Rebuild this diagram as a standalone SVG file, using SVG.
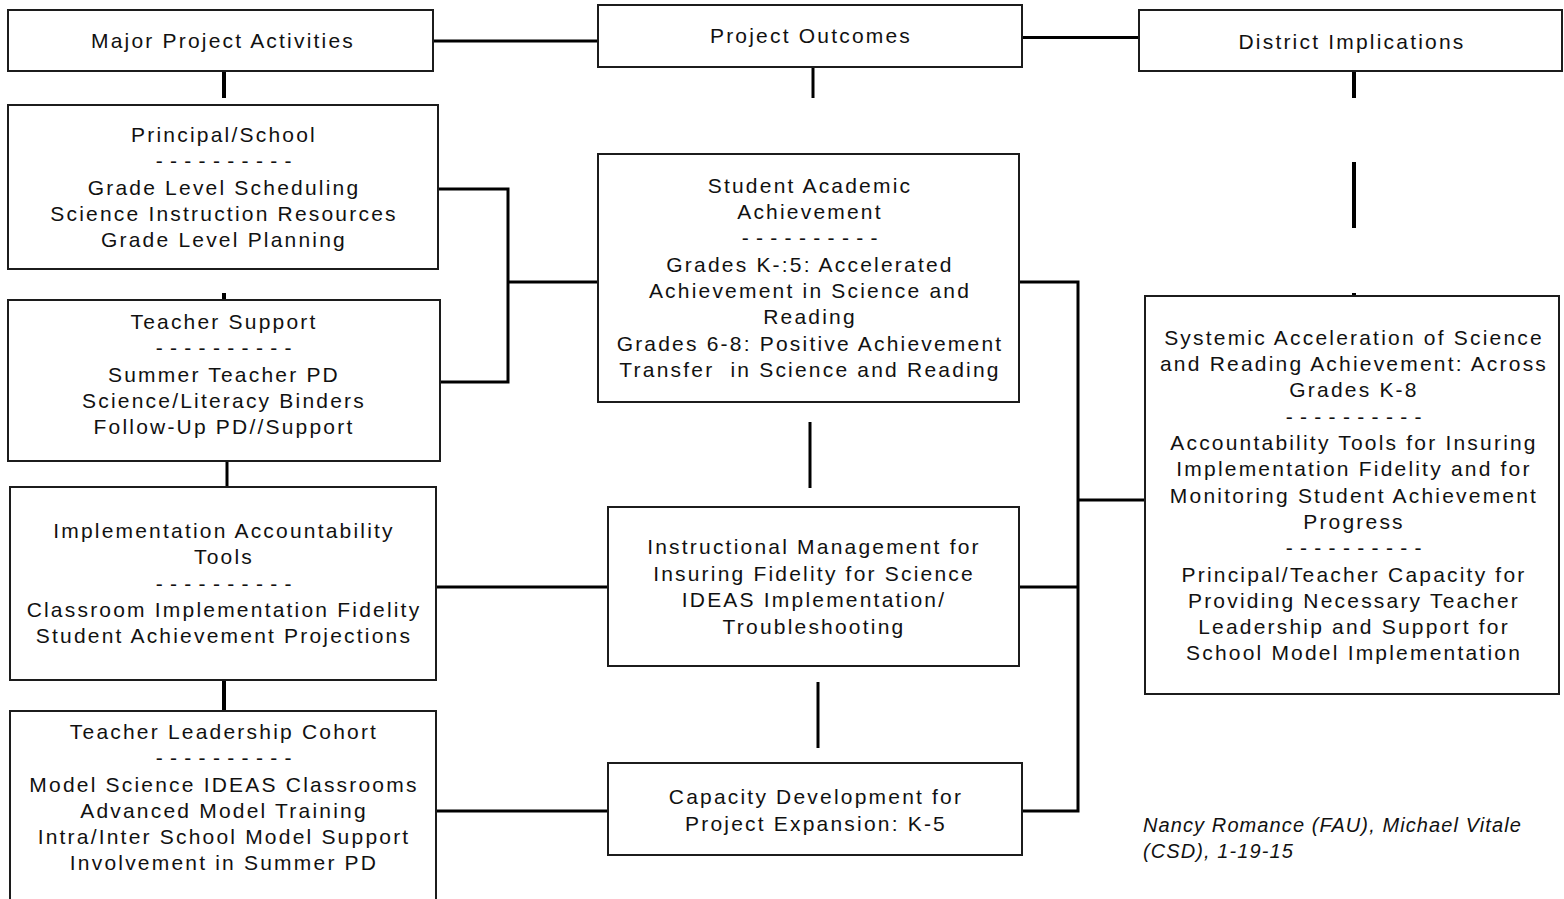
<svg xmlns="http://www.w3.org/2000/svg" width="1564" height="899" viewBox="0 0 1564 899">
<style>
.box{fill:#fff;stroke:#1c1c1c;stroke-width:2}
.t{font-family:"Liberation Sans",Arial,sans-serif;font-size:21px;letter-spacing:2.2px;fill:#111;text-anchor:middle}
.d{letter-spacing:0.75px}
.c{stroke:#000;stroke-width:3;fill:none}
.s{stroke:#000;stroke-width:4;fill:none}
.cr{font-family:"Liberation Sans",Arial,sans-serif;font-size:20px;font-style:italic;letter-spacing:1.1px;fill:#111}
</style>
<rect width="1564" height="899" fill="#fff"/>
<g id="connectors">
<path class="c" d="M433 41H599"/>
<path class="c" d="M1022 37.5H1139"/>
<path class="s" d="M224 72V98"/>
<path class="c" d="M813 68V98"/>
<path class="s" d="M1354 72V98"/>
<path class="s" d="M1354 162V228"/>
<path class="s" d="M1354 293V298"/>
<path class="s" d="M224 293V300"/>
<path class="c" d="M227 461V487"/>
<path class="s" d="M224 680V711"/>
<path class="c" d="M810 422V488"/>
<path class="c" d="M818 682V748"/>
<path class="c" d="M438 189H508V382H440"/>
<path class="c" d="M508 282H598"/>
<path class="c" d="M436 587H608"/>
<path class="c" d="M436 811H608"/>
<path class="c" d="M1019 282H1078V811H1022"/>
<path class="c" d="M1019 587H1078"/>
<path class="c" d="M1078 500H1145"/>
</g>
<g id="major-project-activities">
<rect class="box" x="8" y="10" width="425" height="61"/>
<text class="t" x="223" y="48">Major Project Activities</text>
</g>
<g id="project-outcomes">
<rect class="box" x="598" y="5" width="424" height="62"/>
<text class="t" x="811" y="43">Project Outcomes</text>
</g>
<g id="district-implications">
<rect class="box" x="1139" y="10" width="423" height="61"/>
<text class="t" x="1352" y="49">District Implications</text>
</g>
<g id="principal-school">
<rect class="box" x="8" y="105" width="430" height="164"/>
<text class="t" x="224" y="142">Principal/School</text>
<text class="t d" x="224" y="168">- - - - - - - - - -</text>
<text class="t" x="224" y="195">Grade Level Scheduling</text>
<text class="t" x="224" y="221">Science Instruction Resources</text>
<text class="t" x="224" y="247">Grade Level Planning</text>
</g>
<g id="teacher-support">
<rect class="box" x="8" y="300" width="432" height="161"/>
<text class="t" x="224" y="329">Teacher Support</text>
<text class="t d" x="224" y="355">- - - - - - - - - -</text>
<text class="t" x="224" y="382">Summer Teacher PD</text>
<text class="t" x="224" y="408">Science/Literacy Binders</text>
<text class="t" x="224" y="434">Follow-Up PD//Support</text>
</g>
<g id="implementation-tools">
<rect class="box" x="10" y="487" width="426" height="193"/>
<text class="t" x="224" y="538">Implementation Accountability</text>
<text class="t" x="224" y="564">Tools</text>
<text class="t d" x="224" y="591">- - - - - - - - - -</text>
<text class="t" x="224" y="617">Classroom Implementation Fidelity</text>
<text class="t" x="224" y="643">Student Achievement Projections</text>
</g>
<g id="teacher-leadership">
<rect class="box" x="10" y="711" width="426" height="200"/>
<text class="t" x="224" y="739">Teacher Leadership Cohort</text>
<text class="t d" x="224" y="765">- - - - - - - - - -</text>
<text class="t" x="224" y="792">Model Science IDEAS Classrooms</text>
<text class="t" x="224" y="818">Advanced Model Training</text>
<text class="t" x="224" y="844">Intra/Inter School Model Support</text>
<text class="t" x="224" y="870">Involvement in Summer PD</text>
</g>
<g id="student-achievement">
<rect class="box" x="598" y="154" width="421" height="248"/>
<text class="t" x="810" y="193">Student Academic</text>
<text class="t" x="810" y="219">Achievement</text>
<text class="t d" x="810" y="245">- - - - - - - - - -</text>
<text class="t" x="810" y="272">Grades K-:5: Accelerated</text>
<text class="t" x="810" y="298">Achievement in Science and</text>
<text class="t" x="810" y="324">Reading</text>
<text class="t" x="810" y="351">Grades 6-8: Positive Achievement</text>
<text class="t" x="810" y="377">Transfer &#160;in Science and Reading</text>
</g>
<g id="instructional-management">
<rect class="box" x="608" y="507" width="411" height="159"/>
<text class="t" x="814" y="554">Instructional Management for</text>
<text class="t" x="814" y="581">Insuring Fidelity for Science</text>
<text class="t" x="814" y="607">IDEAS Implementation/</text>
<text class="t" x="814" y="634">Troubleshooting</text>
</g>
<g id="capacity-development">
<rect class="box" x="608" y="763" width="414" height="92"/>
<text class="t" x="816" y="804">Capacity Development for</text>
<text class="t" x="816" y="831">Project Expansion: K-5</text>
</g>
<g id="systemic-acceleration">
<rect class="box" x="1145" y="296" width="414" height="398"/>
<text class="t" x="1354" y="345">Systemic Acceleration of Science</text>
<text class="t" x="1354" y="371">and Reading Achievement: Across</text>
<text class="t" x="1354" y="397">Grades K-8</text>
<text class="t d" x="1354" y="424">- - - - - - - - - -</text>
<text class="t" x="1354" y="450">Accountability Tools for Insuring</text>
<text class="t" x="1354" y="476">Implementation Fidelity and for</text>
<text class="t" x="1354" y="503">Monitoring Student Achievement</text>
<text class="t" x="1354" y="529">Progress</text>
<text class="t d" x="1354" y="555">- - - - - - - - - -</text>
<text class="t" x="1354" y="582">Principal/Teacher Capacity for</text>
<text class="t" x="1354" y="608">Providing Necessary Teacher</text>
<text class="t" x="1354" y="634">Leadership and Support for</text>
<text class="t" x="1354" y="660">School Model Implementation</text>
</g>
<g id="credit">
<text class="cr" x="1143" y="832">Nancy Romance (FAU), Michael Vitale</text>
<text class="cr" x="1143" y="858">(CSD), 1-19-15</text>
</g>
</svg>
